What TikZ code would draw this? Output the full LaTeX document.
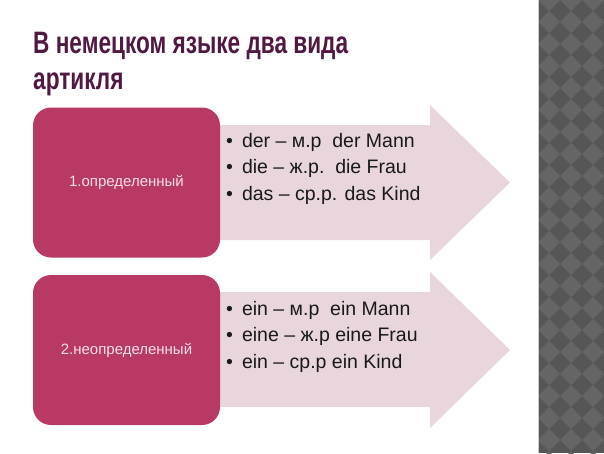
\documentclass[tikz,border=0pt]{standalone}
\usepackage{fontspec}
\setmainfont{Liberation Sans}
\newfontfamily\titlefont{Liberation Sans Bold}[FakeStretch=0.73]
\usepackage{xcolor}
\usetikzlibrary{positioning}

\definecolor{titlecol}{RGB}{80,24,66}
\definecolor{boxcol}{RGB}{184,58,100}
\definecolor{boxtext}{RGB}{246,222,230}
\definecolor{arrowcol}{RGB}{232,214,220}
\definecolor{stripdark}{RGB}{86,86,86}
\definecolor{striplight}{RGB}{101,101,101}

\tikzset{
    catbox/.style={fill=boxcol, rounded corners=18pt, minimum width=187pt,
        minimum height=150pt, inner sep=0pt, text=boxtext,
        font=\fontsize{15}{18}\selectfont},
    itemline/.style={anchor=base west, inner sep=0pt, text=black!90,
        font=\fontsize{19.5}{23}\selectfont},
    bigarrow/.style={fill=arrowcol}
}

\begin{document}
\begin{tikzpicture}[x=1pt, y=-1pt]
    \useasboundingbox (0,0) rectangle (604,453);

    % 1. Dải trang trí bên phải
    \fill[stripdark] (538,0) rectangle (604,453);
    \begin{scope}
        \clip (538,0) rectangle (604,453);
        \foreach \i in {0,...,3} {
            \foreach \j in {0,...,21} {
                \fill[striplight] ({549+22*\i},{22*\j-11}) -- ++(11,11)
                    -- ++(-11,11) -- ++(-11,-11) -- cycle;
            }
        }
    \end{scope}
    \draw[gray!40, line width=1pt] (538,0) -- (538,453);

    % 2. Tiêu đề
    \node[anchor=base west, inner sep=0pt, text=titlecol,
        font=\titlefont\fontsize{31}{36}\selectfont] (title1) at (33,53)
        {В немецком языке два вида};
    \node[anchor=base west, inner sep=0pt, text=titlecol,
        font=\titlefont\fontsize{31}{36}\selectfont] (title2) at (33,89)
        {артикля};

    % 3. Mũi tên nền
    \fill[bigarrow] (180,125) -- (430,125) -- (430,105) -- (510,182.5)
        -- (430,260) -- (430,240) -- (180,240) -- cycle;
    \fill[bigarrow] (180,292) -- (430,292) -- (430,272) -- (510,350)
        -- (430,428) -- (430,407) -- (180,407) -- cycle;

    % 4. Hai khối loại mạo từ
    \node[catbox] (def) at (126.5,182.5) {1.определенный};
    \node[catbox] (indef) at (126.5,350) {2.неопределенный};

    % 5. Các dòng liệt kê
    \node[itemline] (d1) at (226,147) {•\hspace{9pt}der – м.р\ \ der Mann};
    \node[itemline] (d2) at (226,173.5) {•\hspace{9pt}die – ж.р.\ \ die Frau};
    \node[itemline] (d3) at (226,200) {•\hspace{9pt}das – ср.р. das Kind};

    \node[itemline] (i1) at (226,315) {•\hspace{9pt}ein – м.р\ \ ein Mann};
    \node[itemline] (i2) at (226,341.5) {•\hspace{9pt}eine – ж.р eine Frau};
    \node[itemline] (i3) at (226,368) {•\hspace{9pt}ein – ср.р ein Kind};
\end{tikzpicture}
\end{document}
